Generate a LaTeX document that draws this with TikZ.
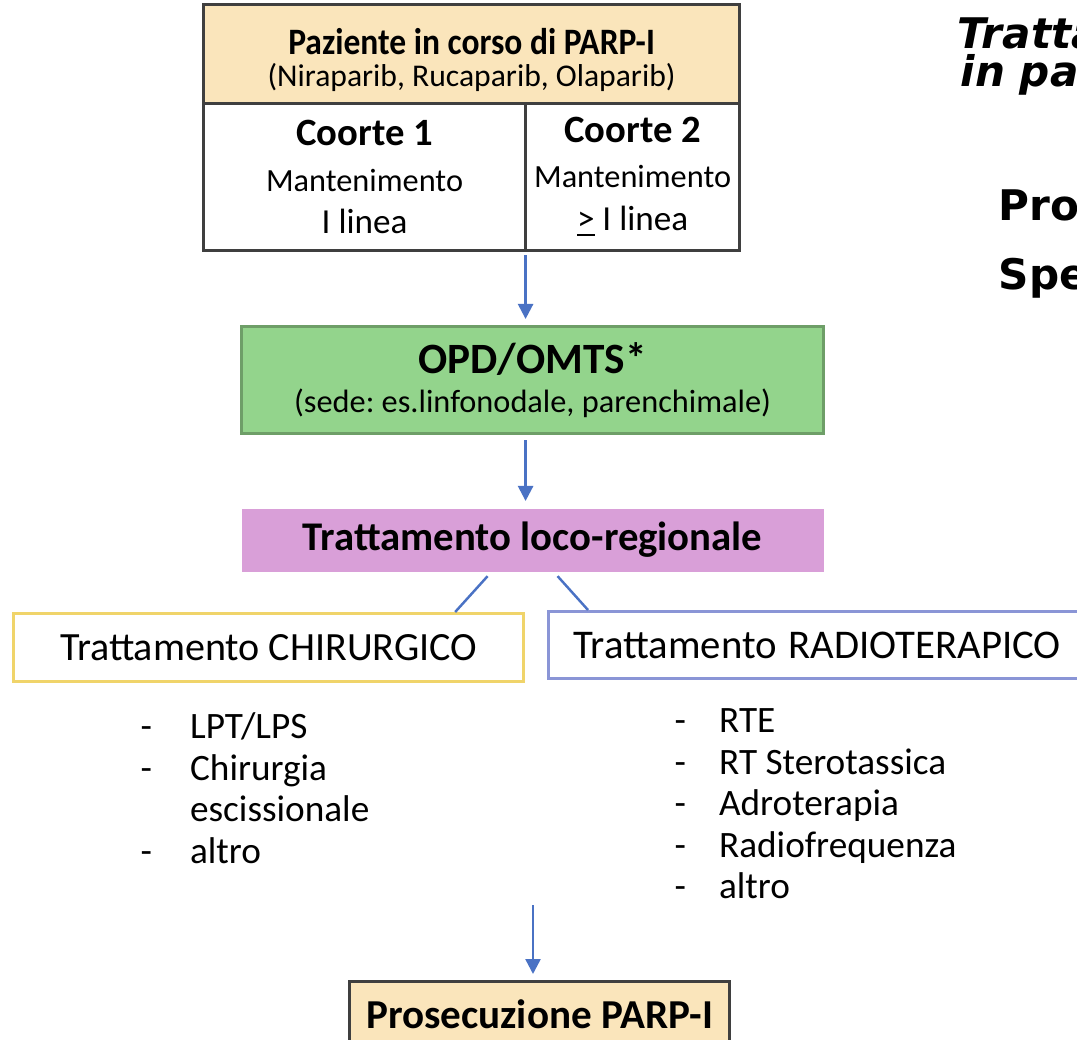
\documentclass[tikz,border=0pt]{standalone}
\usepackage{fontspec}
\setmainfont{Carlito}
\newfontfamily\sidefont{DejaVu Sans}
\usetikzlibrary{arrows.meta,calc,positioning}
\definecolor{boxgray}{HTML}{3F3F3F}
\definecolor{pazyellow}{HTML}{FAE5BB}
\definecolor{opdgreen}{HTML}{93D48C}
\definecolor{opdline}{HTML}{6E9E68}
\definecolor{locopurple}{HTML}{D99FD8}
\definecolor{chirline}{HTML}{F0D46A}
\definecolor{radline}{HTML}{8A95D6}
\definecolor{arrowblue}{HTML}{4A72C4}
\frenchspacing

\begin{document}
\begin{tikzpicture}[
  box/.style={draw=boxgray,line width=0.9pt,align=center,inner sep=0pt,anchor=north west},
  arr/.style={draw=arrowblue,line width=0.7pt,-{Triangle[length=1.5mm,width=1.5mm]},shorten >=0.06cm},
  link/.style={draw=arrowblue,line width=0.7pt},
  item/.style={anchor=north west,inner sep=0pt,font=\fontsize{10.6}{11.8}\selectfont},
  side/.style={anchor=west,inner sep=0pt,font=\sidefont\bfseries\fontsize{12}{14}\selectfont}
]
\clip (0,0) rectangle (10.77,-10.40);
\useasboundingbox (0,0) rectangle (10.77,-10.40);

% patient and cohorts
\node[box,fill=pazyellow,minimum width=5.36cm,minimum height=0.99cm] (paz) at (2.02,-0.03) {};
\node[align=center,inner sep=0pt] (paztext) at ([yshift=-0.06cm]paz.center)
  {\bfseries\fontsize{10.6}{12}\selectfont\addfontfeature{FakeStretch=0.9}Paziente in corso di PARP-I\\[-3pt]
   \mdseries\fontsize{9}{11}\selectfont (Niraparib, Rucaparib, Olaparib)};
\node[box,minimum width=3.22cm,minimum height=1.47cm] (c1) at (2.02,-1.02)
  {\bfseries\fontsize{11}{13}\selectfont Coorte 1\\[1pt]
   \mdseries\fontsize{9.2}{11}\selectfont Mantenimento\\ I linea};
\node[box,minimum width=2.14cm,minimum height=1.47cm] (c2) at (5.24,-1.02)
  {\bfseries\fontsize{11}{13}\selectfont Coorte 2\\[1pt]
   \mdseries\fontsize{9.2}{11}\selectfont Mantenimento\\ \underline{>} I linea};

% OPD and treatment
\node[box,draw=opdline,fill=opdgreen,minimum width=5.82cm,minimum height=1.07cm] (opd) at (2.40,-3.25)
  {\bfseries\fontsize{12.3}{14}\selectfont OPD/OMTS*\\[-1pt]
   \mdseries\fontsize{9.2}{11}\selectfont (sede: es.linfonodale, parenchimale)};
\node[box,draw=none,fill=locopurple,minimum width=5.82cm,minimum height=0.63cm] (loco) at (2.40,-5.07)
  {\bfseries\fontsize{11.6}{13}\selectfont Trattamento loco-regionale};

\node[box,draw=chirline,minimum width=5.10cm,minimum height=0.68cm] (chir) at (0.12,-6.12)
  {\fontsize{11.4}{13}\selectfont Trattamento CHIRURGICO};
\node[box,draw=radline,minimum height=0.67cm,text width=5.7cm,inner xsep=0.25cm,align=left] (rad) at (5.47,-6.10)
  {\fontsize{11.6}{13}\selectfont Trattamento RADIOTERAPICO};

% lists
\node[item] (chirlist) at (1.40,-7.09)
  {\begin{tabular}{@{}l@{\hspace{0.38cm}}l@{}}
   - & LPT/LPS\\ - & Chirurgia\\ & escissionale\\ - & altro
   \end{tabular}};
\node[item] (radlist) at (6.74,-7.03)
  {\begin{tabular}{@{}l@{\hspace{0.33cm}}l@{}}
   - & RTE\\ - & RT Sterotassica\\ - & Adroterapia\\ - & Radiofrequenza\\ - & altro
   \end{tabular}};

\node[box,fill=pazyellow,minimum width=3.80cm,minimum height=0.66cm] (prose) at (3.48,-9.80)
  {\bfseries\fontsize{11.7}{13}\selectfont Prosecuzione PARP-I};

% side title
\node[side] (tit1) at (9.57,-0.33) {\itshape Trattamento};
\node[side] (tit2) at (9.60,-0.75) {\itshape in pazienti};
\node[side] (tit3) at (9.98,-2.05) {Pro};
\node[side] (tit4) at (9.98,-2.78) {Spe};

% connectors
\coordinate (split) at ($(c1.south east)!.5!(c2.south west)+(0,-0.03)$);
\draw[arr] (split) -- (split |- opd.north);
\draw[arr] (opd.south -| split) ++(0,-0.05) -- (split |- loco.north);
\draw[link] ([xshift=-0.45cm,yshift=-0.03cm]loco.south) -- ([xshift=-0.70cm]chir.north east);
\draw[link] ([xshift=0.25cm,yshift=-0.03cm]loco.south) -- ([xshift=0.41cm]rad.north west);
\coordinate (after) at (5.33,-9.05);
\draw[arr] (after) -- (after |- prose.north);
\end{tikzpicture}
\end{document}
